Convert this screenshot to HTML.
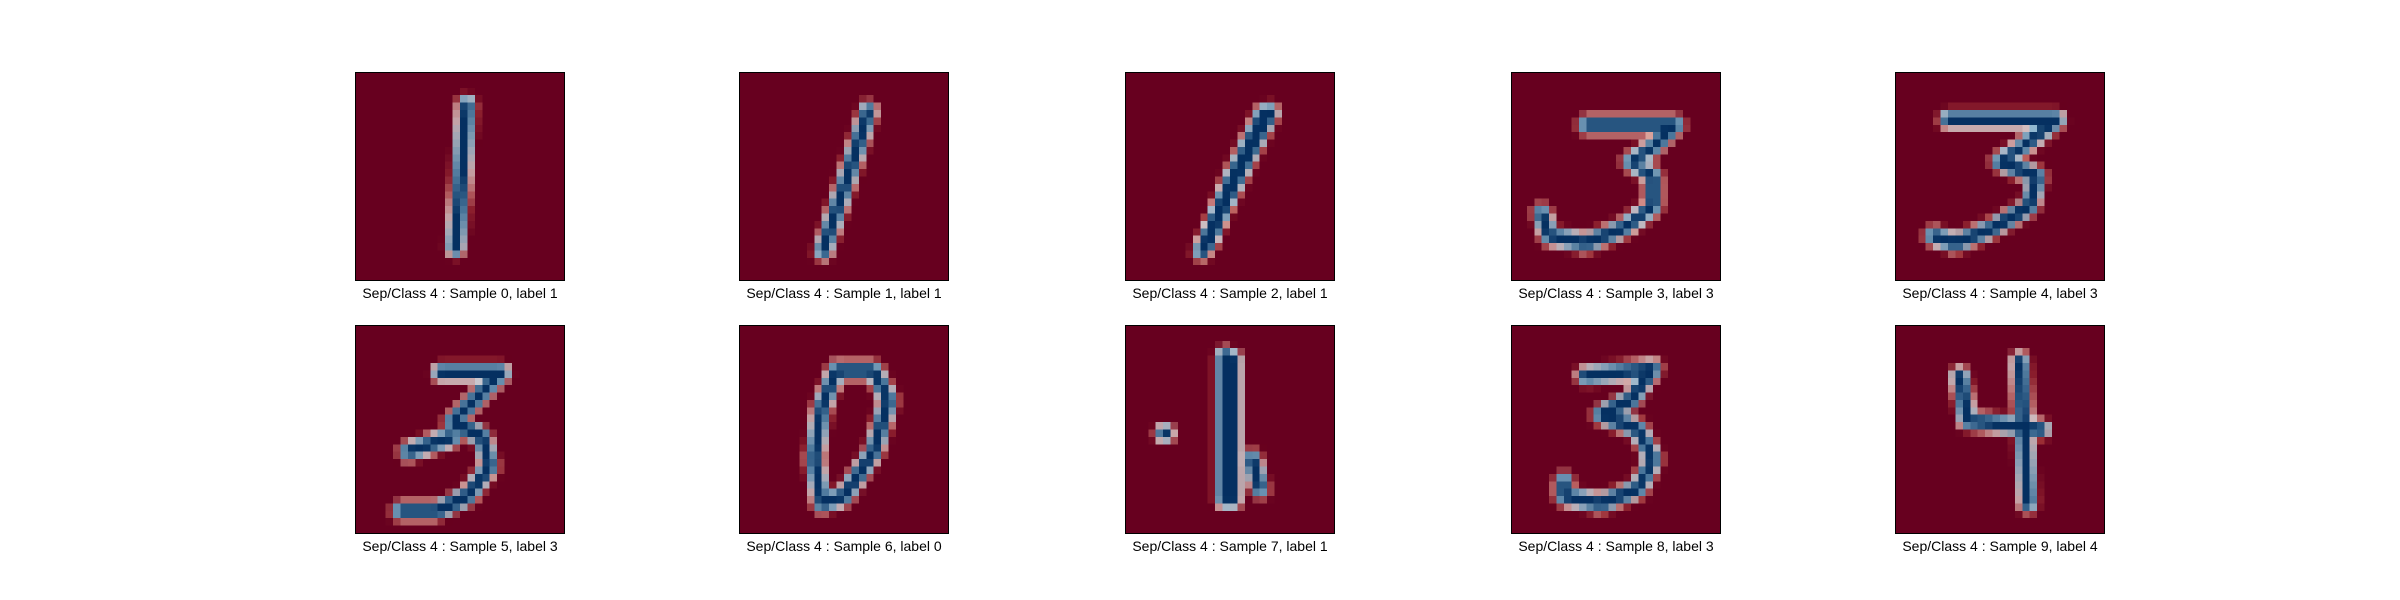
<!DOCTYPE html>
<html><head><meta charset="utf-8"><style>
html,body{margin:0;padding:0;background:#fff;}
#root{position:relative;width:2400px;height:600px;overflow:hidden;font-family:"Liberation Sans",sans-serif;}
.lbl{position:absolute;font-size:14px;color:#000;text-align:center;width:300px;white-space:nowrap;}
canvas.p{position:absolute;image-rendering:pixelated;image-rendering:crisp-edges;box-sizing:border-box;border:1px solid #000;}
</style></head><body>
<div id="root"></div>
<script>
const sampleIdx=[0,1,2,3,4,5,6,7,8,9];
const labels=[1,1,1,3,3,3,0,1,3,4];
const strokes=[
 [[[14.9,4.3],[14.2,14],[13.4,23.7]]],
 [[[17.3,5.1],[14.5,14],[11.2,24.1]]],
 [[[19.4,5.3],[15,14],[10.2,24.1]],[[18.5,5.5],[14,15],[11,23]]],
 [[[10,7],[22,7],[19,10],[16,12],[19,14],[19,18],[15,21],[10,23],[5,22],[4,19]]],
 [[[7,6.3],[21.6,6.3],[17,10],[14,12],[19,14],[18,18],[13,21],[8,23],[5,22]]],
 [[[11.4,6.3],[19.6,6.3],[16,10],[13,13],[17,15],[18,19],[15,23],[11,25],[6,25]],[[7,17],[13,15]]],
 [[[13,6],[18,6],[20,10],[18,17],[14,23],[11,24],[10,18],[11,11],[13,6]]],
 [[[13.3,4],[13.3,23.6]],[[14.3,4.5],[14.3,23.6]],[[17,18],[18,22]],[[5.1,14.5],[5.3,14.5]]],
 [[[9.8,6.7],[19,5.7],[16,10],[12,12],[17,14],[19,18],[17,22],[12,24],[7,23],[7,21]]],
 [[[8.6,6.7],[9.6,12.8],[19.6,13.9]],[[16.7,4.7],[17.8,24.1]]]
];
const colX=[355,739,1125,1511,1895], rowY=[72,324.5], W=210, H=209;
const root=document.getElementById('root');
sampleIdx.forEach((s,i)=>{
 const x=colX[i%5], y=rowY[Math.floor(i/5)];
 const c=document.createElement('canvas');
 c.className='p';
 
 
 c.width=28;c.height=28;
 c.style.left=x+'px';c.style.top=y+'px';c.style.width=W+'px';c.style.height=H+'px';
 const g=c.getContext('2d');
 g.fillStyle='#67001f';g.fillRect(0,0,28,28);
 g.lineJoin='round';g.lineCap='round';
 const layers=[['#d6604d',3.0],['#f7f7f7',2.4],['#92c5de',2.0],['#053061',1.5]];
 layers.forEach(([col,w])=>{
  g.strokeStyle=col;g.lineWidth=w;
  strokes[i].forEach(pl=>{
   g.beginPath();
   pl.forEach((p,k)=>k?g.lineTo(p[0],p[1]):g.moveTo(p[0],p[1]));
   g.stroke();
  });
 });
 root.appendChild(c);
 const d=document.createElement('div');
 d.className='lbl';
 
 
 d.style.left=(x+W/2-150)+'px';
 d.style.top=(y+H+4)+'px';
 d.textContent='Sep/Class 4 : Sample '+s+', label '+labels[i];
 root.appendChild(d);
});
</script>
</body></html>
